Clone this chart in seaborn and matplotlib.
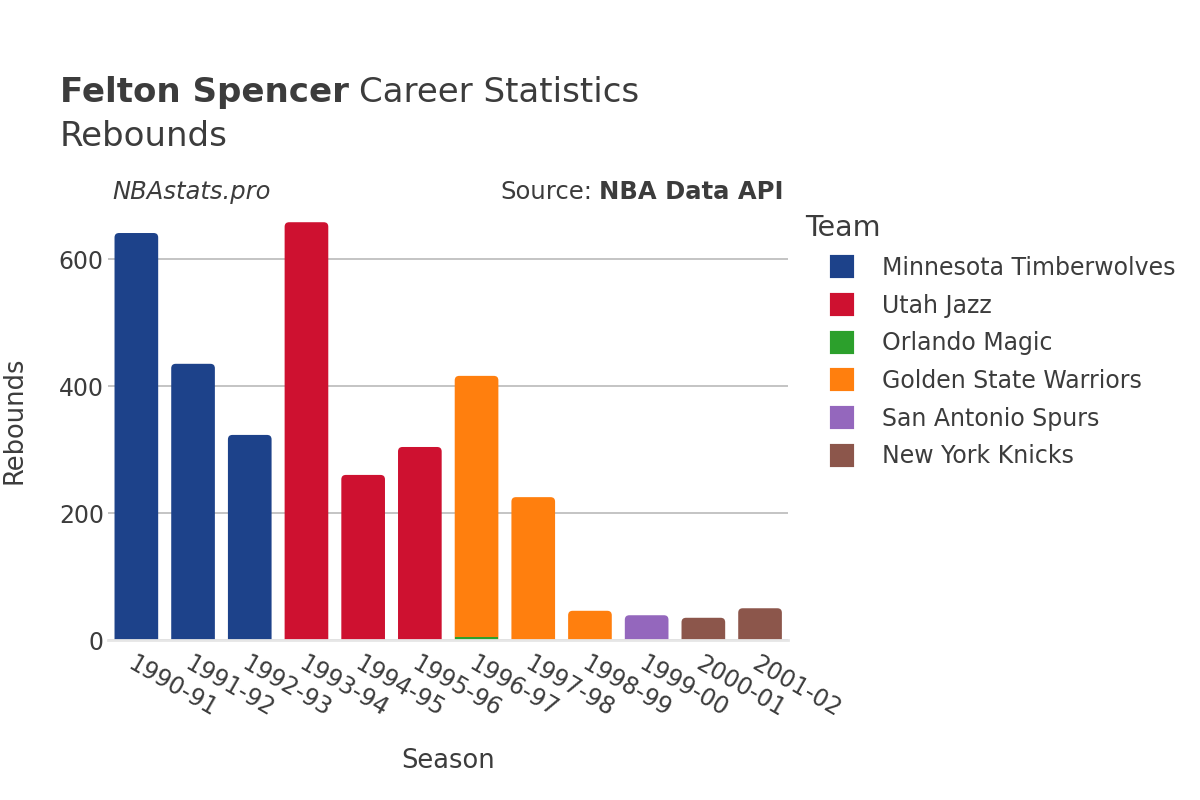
import pandas as pd
import numpy as np
import matplotlib
matplotlib.use("Agg")
import matplotlib.pyplot as plt
from matplotlib.patches import Patch, FancyBboxPatch, Rectangle
import seaborn as sns

seasons = ["1990-91", "1991-92", "1992-93", "1993-94", "1994-95", "1995-96",
           "1996-97", "1997-98", "1998-99", "1999-00", "2000-01", "2001-02"]
teams = ["Minnesota Timberwolves", "Utah Jazz", "Orlando Magic",
         "Golden State Warriors", "San Antonio Spurs", "New York Knicks"]
team_colors = ["#1d428a", "#ce1130", "#2ca02c", "#ff7f0e", "#9467bd", "#8c564b"]

# rebounds per season for each team (0 = did not play for that team)
minnesota = [641, 435, 323, 0, 0, 0, 0, 0, 0, 0, 0, 0]
utah = [0, 0, 0, 658, 260, 304, 0, 0, 0, 0, 0, 0]
orlando = [0, 0, 0, 0, 0, 0, 5, 0, 0, 0, 0, 0]
golden_state = [0, 0, 0, 0, 0, 0, 411, 225, 46, 0, 0, 0]
san_antonio = [0, 0, 0, 0, 0, 0, 0, 0, 0, 39, 0, 0]
new_york = [0, 0, 0, 0, 0, 0, 0, 0, 0, 0, 35, 50]

values = [minnesota, utah, orlando, golden_state, san_antonio, new_york]

sns.set_theme(style="white")
plt.rcParams["font.family"] = ["DejaVu Sans"]
text_col = "#3c3c3c"

fig = plt.figure(figsize=(12, 8), dpi=100)
ax = fig.add_axes([0.09, 0.2, 0.567, 0.55])

# stacked bars, one barplot call per team
bottom = np.zeros(len(seasons))
for team, vals, col in zip(teams, values, team_colors):
    df = pd.DataFrame({"Season": seasons, "Rebounds": vals})
    sns.barplot(data=df, x="Season", y="Rebounds", order=seasons, color=col,
                bottom=bottom, width=0.77, ax=ax, saturation=1, linewidth=0,
                zorder=3)
    bottom = bottom + np.array(vals)

ax.set_ylim(0, 693)
ax.set_xlim(-0.5, len(seasons) - 0.5)

# round the top corners of the topmost segment of each bar
ax_w = 0.567 * 1200
ax_h = 0.55 * 800
px_x = ax_w / len(seasons)
px_y = ax_h / 693
r = 4.5 / px_x
bars = [p for p in ax.patches if isinstance(p, Rectangle) and p.get_height() > 0]
tops = {}
for p in bars:
    key = round(p.get_x() + p.get_width() / 2, 3)
    tops[key] = max(tops.get(key, 0), p.get_y() + p.get_height())
for p in bars:
    key = round(p.get_x() + p.get_width() / 2, 3)
    top = p.get_y() + p.get_height()
    if top < tops[key]:
        continue
    ext = 20
    rounded = FancyBboxPatch((p.get_x(), -ext), p.get_width(), top + ext,
                             boxstyle=f"round,pad=0,rounding_size={r}",
                             mutation_aspect=px_x / px_y,
                             facecolor=p.get_facecolor(), edgecolor="none",
                             zorder=2.5)
    ax.add_patch(rounded)
    p.remove()

ax.set_yticks([0, 200, 400, 600])
ax.yaxis.grid(True, color="#b4b4b4", linewidth=1.1, zorder=0)
ax.set_axisbelow(True)
for s in ["left", "right", "top"]:
    ax.spines[s].set_visible(False)
ax.spines["bottom"].set_color("#e6e6e6")
ax.spines["bottom"].set_linewidth(2)
ax.spines["bottom"].set_zorder(4)
ax.tick_params(axis="x", length=0, labelsize=17, colors=text_col, pad=8)
ax.tick_params(axis="y", length=0, labelsize=17, colors=text_col, pad=3)
plt.setp(ax.get_xticklabels(), rotation=-30, ha="left", rotation_mode="anchor")
ax.set_xlabel("Season", fontsize=18.5, color=text_col)
ax.set_ylabel("Rebounds", fontsize=18.5, color=text_col)
ax.xaxis.set_label_coords(0.5, -0.245)
ax.yaxis.set_label_coords(-0.118, 0.5)

fig.text(0.05, 0.873, "Felton Spencer", fontsize=24.5, fontweight="bold", color=text_col)
fig.text(0.299, 0.873, "Career Statistics", fontsize=24.5, color=text_col)
fig.text(0.05, 0.817, "Rebounds", fontsize=24.5, color=text_col)
fig.text(0.094, 0.751, "NBAstats.pro", fontsize=17.5, style="italic", color=text_col)
fig.text(0.4935, 0.751, "Source:", fontsize=17.5, color=text_col, ha="right")
fig.text(0.6533, 0.751, "NBA Data API", fontsize=17.5, fontweight="bold",
         color=text_col, ha="right")

fig.text(0.671, 0.705, "Team", fontsize=20.5, color=text_col)
handles = [Patch(facecolor=c, edgecolor=c, linewidth=3, joinstyle="round", label=t)
           for t, c in zip(teams, team_colors)]
leg = fig.legend(handles=handles, loc="upper left",
                 bbox_to_anchor=(0.693, 0.68), frameon=False, fontsize=17,
                 handlelength=0.85, handleheight=0.85, borderpad=0,
                 borderaxespad=0, handletextpad=1.3, labelspacing=0.58)
for t in leg.get_texts():
    t.set_color(text_col)

fig.savefig("out.png", dpi=100)
